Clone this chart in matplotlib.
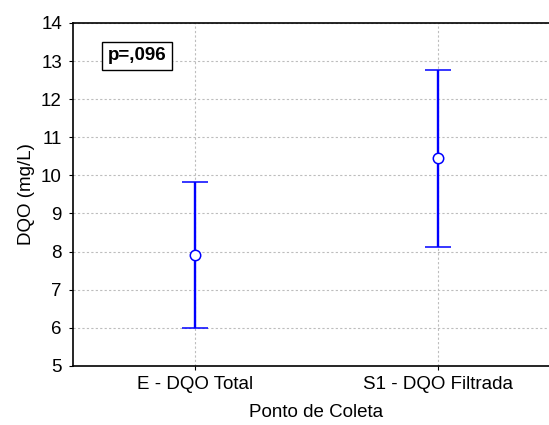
import numpy as np
import matplotlib
matplotlib.use("Agg")
import matplotlib.pyplot as plt

plt.rcParams['font.family'] = ['Liberation Sans', 'DejaVu Sans']

# dados
categorias = ['E - DQO Total', 'S1 - DQO Filtrada']
media = [7.90, 10.45]
inferior = [6.00, 8.12]
superior = [9.82, 12.76]

x = np.arange(len(categorias))
err = [np.array(media) - np.array(inferior), np.array(superior) - np.array(media)]

fig = plt.figure(figsize=(5.49, 4.25), dpi=100)
ax = fig.add_axes([0.133, 0.139, 0.887, 0.807])

ax.errorbar(x, media, yerr=err, fmt='o', color='#0000ff', ecolor='#0000ff',
            elinewidth=1.7, capsize=9.5, capthick=1.7, markersize=7.5,
            markerfacecolor='white', markeredgecolor='#0000ff', markeredgewidth=1.1, zorder=3)

ax.set_xlim(-0.5, 1.5)
ax.set_ylim(5, 14)
ax.set_yticks(range(5, 15))
ax.set_xticks(x)
ax.set_xticklabels(categorias)
ax.tick_params(labelsize=13.5, length=3, width=0.8, pad=5)
ax.tick_params(axis='x', pad=4)
ax.grid(True, color='#bdbdbd', linestyle=(0, (2, 2)), linewidth=0.8)
ax.set_axisbelow(True)

ax.spines['right'].set_visible(False)
for s in ['left', 'bottom', 'top']:
    ax.spines[s].set_linewidth(1.2)

ax.set_xlabel('Ponto de Coleta', fontsize=13.5, labelpad=8)
ax.set_ylabel('DQO (mg/L)', fontsize=13.5, labelpad=4)

ax.text(0.131, 0.904, 'p=,096', transform=ax.transAxes, ha='center', va='center',
        fontsize=13.5, fontweight='bold',
        bbox=dict(boxstyle='square,pad=0.3', facecolor='white', edgecolor='black', linewidth=1.0))

fig.savefig('out.png', dpi=100)
